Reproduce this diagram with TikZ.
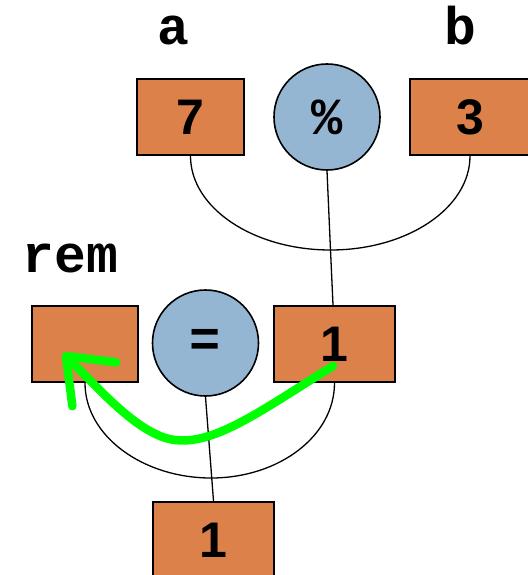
\documentclass[tikz,border=0pt]{standalone}
\usepackage{fontspec}
\setmainfont{Liberation Sans}
\newfontfamily\codefont{Liberation Mono}
\usetikzlibrary{arrows.meta}
\definecolor{cellorange}{RGB}{221,129,74}
\definecolor{opblue}{RGB}{149,182,211}
\definecolor{flowgreen}{RGB}{0,255,0}
\tikzset{
  cell/.style={draw=black, line width=2pt, fill=cellorange, minimum width=107pt,
    minimum height=76pt, inner sep=0pt, font=\fontsize{50}{50}\selectfont\bfseries},
  op/.style={circle, draw=black, line width=1.6pt, fill=opblue, minimum size=106pt,
    inner sep=0pt, font=\codefont\fontsize{52}{52}\selectfont\bfseries},
  varname/.style={anchor=base, inner sep=0pt, font=\codefont\fontsize{53}{53}\selectfont\bfseries},
  wire/.style={line width=1.3pt},
  flow/.style={flowgreen, line width=8.5pt, line cap=round, line join=round,
    -{Straight Barb[length=40pt,width=62pt,round]}}
}
\begin{document}
\begin{tikzpicture}[x=1pt,y=-1pt]
  \useasboundingbox (0,0) rectangle (527,575);

  % top expression: a % b
  \node[varname] (la) at (173.5,45) {a};
  \node[varname] (lb) at (460,45) {b};
  \node[cell] (a) at (190.5,117) {7};
  \node[op] (mod) at (327,117) {\%};
  \node[cell, minimum width=120pt] (b) at (470,117) {3};

  % assignment: rem = result
  \node[varname] (lrem) at (70.5,272) {rem};
  \node[cell, minimum width=106pt] (rem) at (85,344) {};
  \node[op] (eq) at (205.5,343) {=};
  \node[cell, minimum width=121pt] (res) at (334.5,344) {1};
  \node[cell, minimum width=121pt] (out) at (213.5,540) {1};

  % operand wires
  \coordinate (j1) at (330.5,250);
  \draw[wire] (a.south) .. controls +(0,52) and +(-77,0) .. (j1)
                        .. controls +(77,0) and +(0,52) .. (b.south);
  \draw[wire] (mod.south) -- (j1) -- ([xshift=-1.5pt]res.north);

  \coordinate (j2) at (211,478);
  \draw[wire] (rem.south) .. controls +(0,53) and +(-68,0) .. (j2)
                          .. controls +(68,0) and +(0,53) .. (res.south);
  \draw[wire] (eq.south) -- (out.north);

  % value flowing into rem
  \coordinate (gfrom) at (333,366);
  \coordinate (gto) at (63,353);
  \draw[flow] (gfrom) .. controls (262,410) and (215,445) .. (175,440)
                      .. controls (140,436) and (100,390) .. (gto);
\end{tikzpicture}
\end{document}
